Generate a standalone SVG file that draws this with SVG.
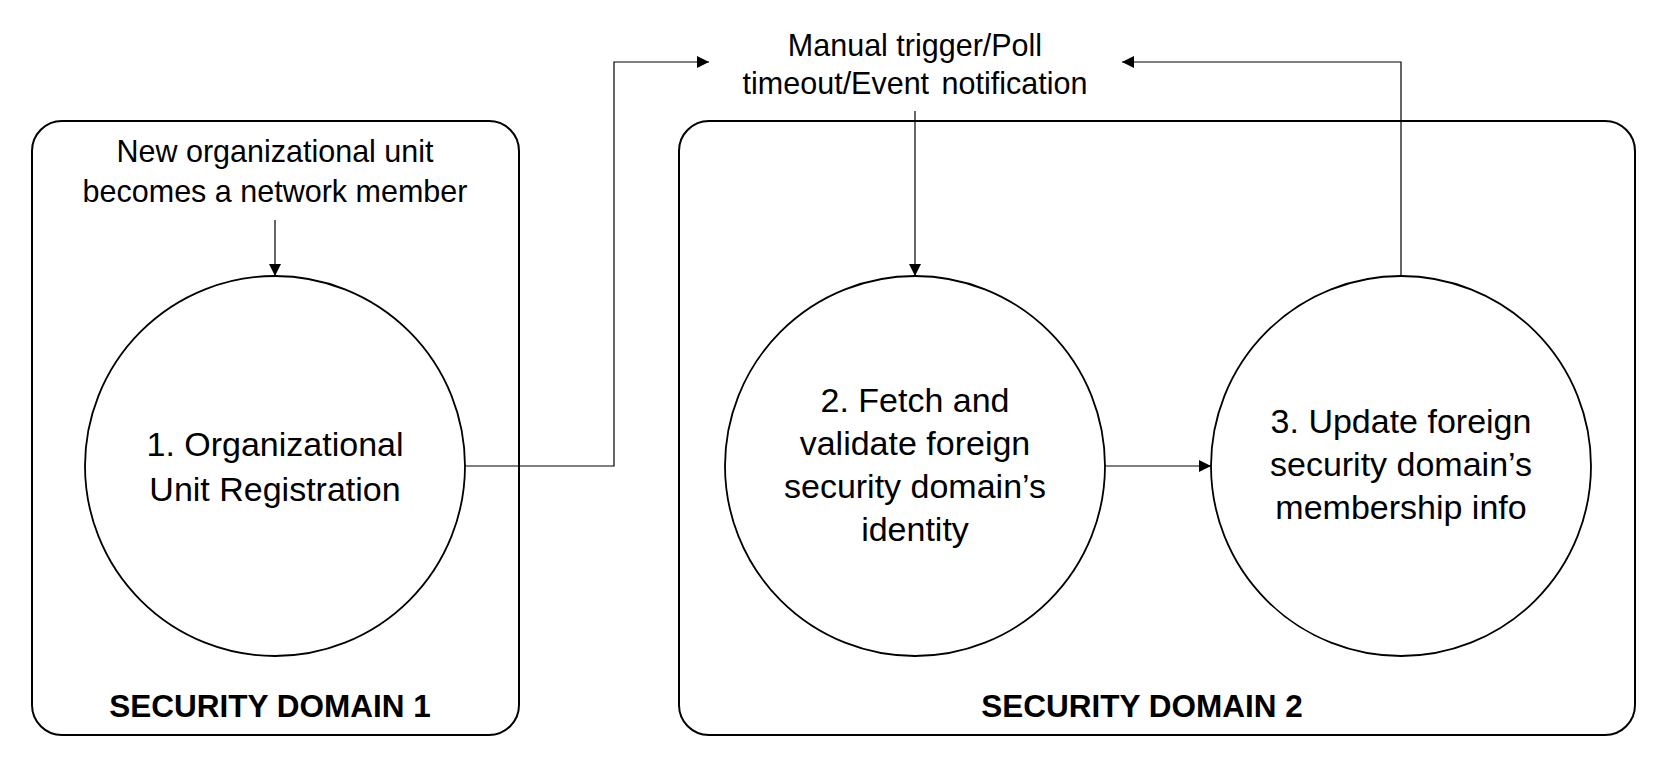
<svg xmlns="http://www.w3.org/2000/svg" width="1662" height="761" viewBox="0 0 1662 761">
<style>
.box{fill:none;stroke:#000;stroke-width:2}
.node{fill:#fff;stroke:#000;stroke-width:1.8}
.conn{fill:none;stroke:#000;stroke-width:1.2}
.t{font-family:"Liberation Sans",Arial,sans-serif;font-size:30.5px;fill:#000;text-anchor:middle}
.c{font-family:"Liberation Sans",Arial,sans-serif;font-size:34px;fill:#000;text-anchor:middle}
.b{font-family:"Liberation Sans",Arial,sans-serif;font-size:31.5px;font-weight:bold;fill:#000;text-anchor:middle}
</style>
<defs>
<marker id="ah" markerUnits="userSpaceOnUse" markerWidth="13" markerHeight="12" refX="12" refY="6" orient="auto">
<path d="M0,0 L12,6 L0,12 z" fill="#000"/>
</marker>
</defs>
<rect width="1662" height="761" fill="#fff"/>
<g id="domain1">
<rect class="box" x="32" y="121" width="487" height="614" rx="30" ry="30"/>
<text class="t" x="275" y="162">New organizational unit</text>
<text class="t" x="275" y="202">becomes a network member</text>
<text class="b" x="270" y="717">SECURITY DOMAIN 1</text>
</g>
<g id="domain2">
<rect class="box" x="679" y="121" width="956" height="614" rx="30" ry="30"/>
<text class="b" x="1142" y="717">SECURITY DOMAIN 2</text>
</g>
<g id="trigger">
<text class="t" x="915" y="56">Manual trigger/Poll</text>
<text class="t" x="915" y="94" word-spacing="4">timeout/Event notification</text>
</g>
<g id="node1">
<circle class="node" cx="275" cy="466" r="190"/>
<text class="c" x="275" y="456">1. Organizational</text>
<text class="c" x="275" y="501">Unit Registration</text>
</g>
<g id="node2">
<circle class="node" cx="915" cy="466" r="190"/>
<text class="c" x="915" y="412">2. Fetch and</text>
<text class="c" x="915" y="455">validate foreign</text>
<text class="c" x="915" y="498">security domain’s</text>
<text class="c" x="915" y="541">identity</text>
</g>
<g id="node3">
<circle class="node" cx="1401" cy="466" r="190"/>
<text class="c" x="1401" y="433">3. Update foreign</text>
<text class="c" x="1401" y="476">security domain’s</text>
<text class="c" x="1401" y="519">membership info</text>
</g>
<g id="connectors">
<path class="conn" d="M275,220 V276" marker-end="url(#ah)"/>
<path class="conn" d="M465,466 H614 V62 H709" marker-end="url(#ah)"/>
<path class="conn" d="M915,111 V276" marker-end="url(#ah)"/>
<path class="conn" d="M1105,466 H1211" marker-end="url(#ah)"/>
<path class="conn" d="M1401,276 V62 H1122" marker-end="url(#ah)"/>
</g>
</svg>
